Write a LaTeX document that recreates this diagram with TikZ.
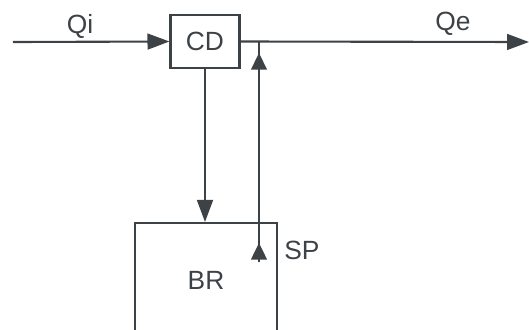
\documentclass[tikz,border=0pt]{standalone}
\usepackage{fontspec}
\setmainfont{Liberation Sans}
\usetikzlibrary{arrows.meta,positioning,decorations.markings}
\definecolor{inkgray}{rgb}{0.24, 0.26, 0.28}

\begin{document}
\begin{tikzpicture}[x=0.02cm, y=-0.02cm,
    every node/.style={text=inkgray, font=\fontsize{15}{18}\selectfont},
    unitbox/.style={draw=inkgray, line width=1.2pt, rectangle},
    flow/.style={draw=inkgray, line width=1.2pt, -{Triangle[length=12.5pt, width=9pt]}},
    upflow/.style={draw=inkgray, line width=1.2pt, postaction={decorate},
        decoration={markings,
            mark=at position 0.38cm with {\arrow{Triangle[length=9.5pt, width=9pt]}},
            mark=at position 4.18cm with {\arrow{Triangle[length=9.5pt, width=9pt]}}}}]
    \useasboundingbox (0,0) rectangle (529,329);
    \clip (0,0) rectangle (529,329);

    % units
    \node[unitbox, minimum width=1.38cm, minimum height=1.06cm] (cd) at (205,41.5) {CD};
    \node[unitbox, minimum width=2.84cm, minimum height=2.28cm] (br) at (206,280) {BR};

    % free ends
    \coordinate (qin) at (13,42);
    \coordinate (qout) at (529,42);
    \coordinate (spfoot) at (259,262);
    \coordinate (spjoin) at (259,42);

    % streams
    \draw[flow] (qin) -- (cd.west);
    \draw[flow] (cd.east) -- (qout);
    \draw[flow] (cd.south) -- (cd.south |- br.north);
    \draw[upflow] (spfoot) -- (spjoin);

    % labels
    \node (qi) at (80,26) {Qi};
    \node (qe) at (453,24) {Qe};
    \node (sp) at (302,250) {SP};
\end{tikzpicture}
\end{document}
